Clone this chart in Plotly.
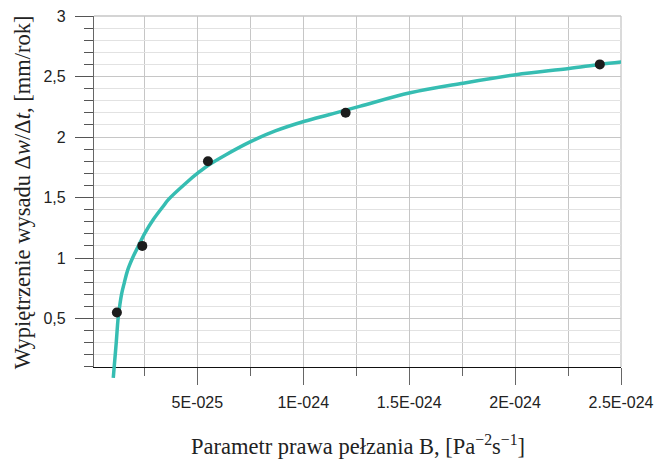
import plotly.graph_objects as go

# Measured points
B_points = [1.2e-25, 2.4e-25, 5.5e-25, 1.2e-24, 2.4e-24]
W_points = [0.55, 1.1, 1.8, 2.2, 2.6]

# Fitted curve
B_curve = [1.03e-25, 1.075e-25, 1.17e-25, 1.26e-25, 1.33e-25, 1.42e-25, 1.55e-25, 1.71e-25,
           1.94e-25, 2.21e-25, 2.53e-25, 2.92e-25, 3.39e-25, 3.63e-25, 4.4e-25, 5.13e-25,
           5.5e-25, 6.31e-25, 7.49e-25, 8.68e-25, 1.006e-24, 1.112e-24, 1.175e-24,
           1.27e-24, 1.505e-24, 1.755e-24, 2.004e-24, 2.255e-24, 2.40e-24, 2.503e-24]
W_curve = [0.01, 0.105, 0.30, 0.505, 0.60, 0.70, 0.795, 0.90,
           1.0, 1.097, 1.208, 1.318, 1.428, 1.483, 1.61, 1.717,
           1.765, 1.85, 1.96, 2.05, 2.13, 2.18, 2.21,
           2.255, 2.365, 2.445, 2.515, 2.566, 2.60, 2.62]

x_tickvals = [5e-25, 1e-24, 1.5e-24, 2e-24, 2.5e-24]
x_ticktext = ["5E-025", "1E-024", "1.5E-024", "2E-024", "2.5E-024"]
x_minorvals = [2.5e-25, 7.5e-25, 1.25e-24, 1.75e-24, 2.25e-24]
y_tickvals = [0.5, 1, 1.5, 2, 2.5, 3]
y_ticktext = ["0,5", "1", "1,5", "2", "2,5", "3"]

X_MIN, X_MAX = 1.2e-26, 2.5e-24
PLOT_H = 462 - 16 - 83
y_bottom_dom = 12.1 / PLOT_H

fig = go.Figure()
fig.add_trace(go.Scatter(x=[X_MIN], y=[1], mode="markers", marker=dict(opacity=0),
                         showlegend=False, hoverinfo="skip", xaxis="x", yaxis="y"))
fig.add_trace(go.Scatter(x=B_curve, y=W_curve, mode="lines",
                         line=dict(color="#36bdb2", width=3.5, shape="spline", smoothing=1.0),
                         showlegend=False, xaxis="x2", yaxis="y2"))
fig.add_trace(go.Scatter(x=B_points, y=W_points, mode="markers",
                         marker=dict(color="#1c1c1c", size=10),
                         showlegend=False, xaxis="x2", yaxis="y2"))

tickfont = dict(family="Liberation Sans, Arial, sans-serif", size=16, color="#222222")
titlefont = dict(family="Liberation Serif, Times New Roman, serif", size=22.5, color="#222222")
fig.update_layout(
    width=654, height=462,
    margin=dict(l=94, r=33, t=16, b=83, autoexpand=False),
    paper_bgcolor="white", plot_bgcolor="rgba(0,0,0,0)",
    xaxis=dict(domain=[0, 1], range=[X_MIN, X_MAX], anchor="y", automargin=False,
               showline=True, linecolor="#111111", linewidth=1.3,
               ticks="outside", ticklen=17, tickwidth=1.3, tickcolor="#666666",
               tickmode="array", tickvals=x_tickvals, ticktext=x_ticktext,
               tickfont=tickfont, ticklabelstandoff=4,
               showgrid=True, gridcolor="#c6c6c6", gridwidth=1.2, zeroline=False,
               minor=dict(tickmode="array", tickvals=x_minorvals, ticks="outside", ticklen=8,
                          tickwidth=1.3, tickcolor="#666666", showgrid=True,
                          gridcolor="#c6c6c6", gridwidth=1.2)),
    yaxis=dict(domain=[y_bottom_dom, 1], range=[0.1, 3], anchor="x", automargin=False,
               showline=True, linecolor="#666666", linewidth=1.3,
               ticks="outside", ticklen=18, tickwidth=1.3, tickcolor="#555555",
               tickmode="array", tickvals=y_tickvals, ticktext=y_ticktext,
               tickfont=tickfont, ticklabelstandoff=6,
               showgrid=True, gridcolor="#c6c6c6", gridwidth=1.2, zeroline=False,
               minor=dict(dtick=0.1, tick0=0, ticks="outside", ticklen=9, tickwidth=1.3,
                          tickcolor="#555555", showgrid=True, gridcolor="#e2e2e2", gridwidth=1.2)),
    xaxis2=dict(domain=[0, 1], range=[X_MIN, X_MAX], anchor="y2", visible=False, automargin=False),
    yaxis2=dict(domain=[0, 1], range=[0, 3], anchor="x2", visible=False, automargin=False),
    shapes=[
        dict(type="line", xref="x domain", yref="y domain", x0=0, x1=1, y0=1, y1=1,
             line=dict(color="#c6c6c6", width=1.3), layer="below"),
        dict(type="line", xref="x domain", yref="y domain", x0=1, x1=1, y0=0, y1=1,
             line=dict(color="#c6c6c6", width=1.3), layer="below"),
    ],
    annotations=[
        dict(text="Parametr prawa pełzania B, [Pa<sup>−2</sup>s<sup>−1</sup>]",
             xref="paper", yref="paper", x=0.5, y=-0.182, xanchor="center", yanchor="middle",
             showarrow=False, font=titlefont),
        dict(text="Wypiętrzenie wysadu Δ<i>w</i>/Δ<i>t</i>, [mm/rok]",
             xref="paper", yref="paper", x=-0.135, y=0.514, xanchor="center", yanchor="middle",
             textangle=-90, showarrow=False, font=titlefont),
    ],
)

fig.write_html("out.html", config={"displayModeBar": False},
               post_script="document.body.style.margin='0';document.body.style.padding='0';")
